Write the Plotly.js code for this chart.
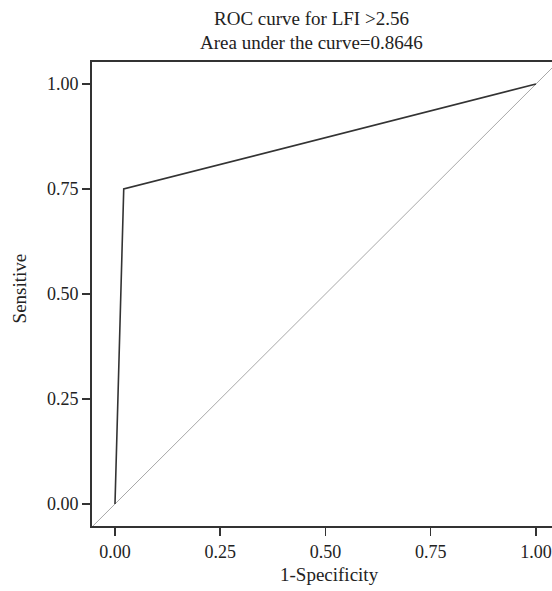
<!DOCTYPE html>
<html><head><meta charset="utf-8">
<script src="https://cdn.plot.ly/plotly-3.0.1.min.js"></script>
<style>html,body{margin:0;padding:0;overflow:hidden;background:#fff}</style>
</head><body><div id="chart" style="width:556px;height:591px"></div>
<script>
const fpr = [0, 0.0208, 1];
const tpr = [0, 0.75, 1];
const refX = [-0.06, 1.06];
const refY = [-0.06, 1.06];
const tickVals = [0, 0.25, 0.5, 0.75, 1];
const tickText = ['0.00', '0.25', '0.50', '0.75', '1.00'];
const titleLines = ['ROC curve for LFI >2.56', 'Area under the curve=0.8646'];
const xTitle = '1-Specificity';
const yTitle = 'Sensitive';

const font = 'Liberation Serif, Times New Roman, serif';
const traces = [
  {x: refX, y: refY, mode: 'lines', line: {color: '#a8a8a8', width: 1}, hoverinfo: 'skip'},
  {x: fpr, y: tpr, mode: 'lines', line: {color: '#333', width: 1.6}}
];
const tf = {family: font, size: 19, color: '#222'};
const layout = {
  width: 556, height: 591,
  margin: {l: 92, r: 2, t: 62, b: 65},
  showlegend: false,
  paper_bgcolor: '#fff', plot_bgcolor: '#fff',
  font: {family: font, color: '#222', size: 16},
  annotations: [
    {text: titleLines[0], xref: 'paper', yref: 'paper', x: 0.476, y: 1.0927, xanchor: 'center', yanchor: 'middle', showarrow: false, font: tf},
    {text: titleLines[1], xref: 'paper', yref: 'paper', x: 0.476, y: 1.0431, xanchor: 'center', yanchor: 'middle', showarrow: false, font: tf},
    {text: xTitle, xref: 'paper', yref: 'paper', x: 0.513, y: -0.1056, xanchor: 'center', yanchor: 'middle', showarrow: false, font: tf},
    {text: yTitle, xref: 'paper', yref: 'paper', x: -0.158, y: 0.512, xanchor: 'center', yanchor: 'middle', textangle: -90, showarrow: false, font: tf}
  ],
  xaxis: {range: [-0.0546, 1.0428], tickvals: tickVals, ticktext: tickText, showgrid: false, zeroline: false,
    showline: true, linecolor: '#333', linewidth: 2, mirror: true, ticks: 'outside', ticklen: 8, tickwidth: 1.5, tickcolor: '#333',
    tickfont: {family: font, size: 18, color: '#222'}},
  yaxis: {range: [-0.0524, 1.0524], tickvals: tickVals, ticktext: tickText, showgrid: false, zeroline: false,
    showline: true, linecolor: '#333', linewidth: 2, mirror: true, ticks: 'outside', ticklen: 8, tickwidth: 1.5, tickcolor: '#333',
    tickfont: {family: font, size: 18, color: '#222'}}
};
Plotly.newPlot('chart', traces, layout, {displayModeBar: false, staticPlot: true});
</script></body></html>
